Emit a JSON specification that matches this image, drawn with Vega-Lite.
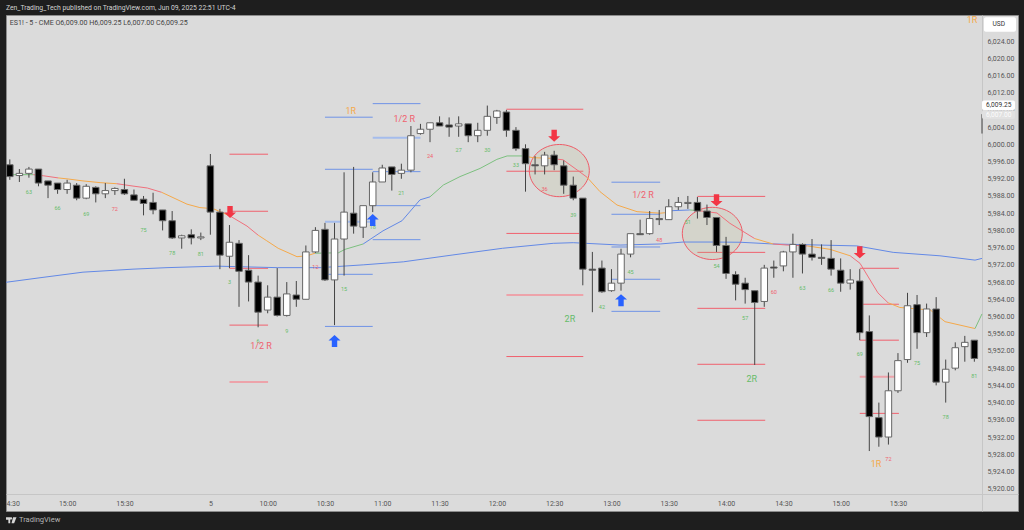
{
  "$schema": "https://vega.github.io/schema/vega-lite/v6.json",
  "width": 1012,
  "height": 496,
  "autosize": "none",
  "padding": {"left": 6, "top": 15, "right": 6, "bottom": 19},
  "background": "#1e1e1e",
  "view": {"fill": "#dbdbdb", "stroke": "#8c8c8c"},
  "config": {"font": "Roboto"},
  "title": {
    "text": "Zen_Trading_Tech published on TradingView.com, Jun 09, 2025 22:51 UTC-4",
    "anchor": "start",
    "frame": "group",
    "offset": 3,
    "fontSize": 6.8,
    "fontWeight": "normal",
    "color": "#d4d4d4"
  },
  "resolve": {"scale": {"color": "independent"}},
  "datasets": {
    "candles": [
      {"bar":0,"open":5995.25,"high":5996.5,"low":5991.75,"close":5992.5},
      {"bar":1,"open":5992.75,"high":5994.25,"low":5991.25,"close":5993.25},
      {"bar":2,"open":5993.25,"high":5994.75,"low":5992.25,"close":5994.25},
      {"bar":3,"open":5994.25,"high":5994.25,"low":5990.25,"close":5991},
      {"bar":4,"open":5991.5,"high":5991.5,"low":5987.5,"close":5990.5},
      {"bar":5,"open":5991,"high":5991,"low":5988.5,"close":5989.5},
      {"bar":6,"open":5989.5,"high":5991.75,"low":5988.5,"close":5991},
      {"bar":7,"open":5990.5,"high":5991,"low":5987,"close":5987.5},
      {"bar":8,"open":5987.5,"high":5990.75,"low":5987.25,"close":5990.25},
      {"bar":9,"open":5990,"high":5990.25,"low":5986.5,"close":5988.5},
      {"bar":10,"open":5988.5,"high":5991,"low":5987.5,"close":5989.25},
      {"bar":11,"open":5989.25,"high":5990,"low":5988.25,"close":5989.75},
      {"bar":12,"open":5989.5,"high":5992,"low":5988.25,"close":5988.5},
      {"bar":13,"open":5988.25,"high":5989.5,"low":5987,"close":5987},
      {"bar":14,"open":5987.25,"high":5988,"low":5983.5,"close":5986.25},
      {"bar":15,"open":5986.5,"high":5988.75,"low":5983.75,"close":5984.75},
      {"bar":16,"open":5984.75,"high":5984.75,"low":5980,"close":5982.25},
      {"bar":17,"open":5982.25,"high":5984.5,"low":5978,"close":5978.25},
      {"bar":18,"open":5978.25,"high":5979,"low":5975.75,"close":5978.75},
      {"bar":19,"open":5979,"high":5980.25,"low":5976.75,"close":5978.25},
      {"bar":20,"open":5978.25,"high":5979.5,"low":5977.75,"close":5978.5},
      {"bar":21,"open":5995,"high":5997.75,"low":5979,"close":5984.25},
      {"bar":22,"open":5984.25,"high":5985,"low":5971,"close":5974.25},
      {"bar":23,"open":5974,"high":5981.25,"low":5971.25,"close":5977.25},
      {"bar":24,"open":5977,"high":5977.75,"low":5962.25,"close":5970.5},
      {"bar":25,"open":5970.75,"high":5974.25,"low":5963.5,"close":5968},
      {"bar":26,"open":5968,"high":5969.5,"low":5957.5,"close":5961},
      {"bar":27,"open":5961.5,"high":5967.25,"low":5960.75,"close":5964.5},
      {"bar":28,"open":5964.5,"high":5971.25,"low":5960,"close":5960.25},
      {"bar":29,"open":5960.25,"high":5968,"low":5960,"close":5965.25},
      {"bar":30,"open":5965,"high":5968.25,"low":5962.25,"close":5964},
      {"bar":31,"open":5964,"high":5976.5,"low":5964,"close":5975},
      {"bar":32,"open":5975,"high":5980.75,"low":5974.75,"close":5980},
      {"bar":33,"open":5980.25,"high":5981.75,"low":5968.25,"close":5968.5},
      {"bar":34,"open":5968.5,"high":5981.75,"low":5958,"close":5978},
      {"bar":35,"open":5978,"high":5993.5,"low":5969.5,"close":5984.25},
      {"bar":36,"open":5984,"high":5994.75,"low":5979.25,"close":5981},
      {"bar":37,"open":5980.75,"high":5985.75,"low":5978.25,"close":5985.75},
      {"bar":38,"open":5985.75,"high":5993.5,"low":5984.25,"close":5991.25},
      {"bar":39,"open":5991.25,"high":5995.25,"low":5991.25,"close":5994.5},
      {"bar":40,"open":5994.75,"high":5994.75,"low":5989.25,"close":5993},
      {"bar":41,"open":5993.25,"high":5995.5,"low":5992,"close":5994},
      {"bar":42,"open":5994,"high":6004.25,"low":5993.5,"close":6002},
      {"bar":43,"open":6002.5,"high":6004.75,"low":6002.25,"close":6003.5},
      {"bar":44,"open":6003.5,"high":6005,"low":6000.5,"close":6005},
      {"bar":45,"open":6005,"high":6006.5,"low":6004.25,"close":6004.25},
      {"bar":46,"open":6004.5,"high":6006.25,"low":6001.75,"close":6004},
      {"bar":47,"open":6004.25,"high":6006.5,"low":6001.75,"close":6004.75},
      {"bar":48,"open":6004.75,"high":6004.75,"low":6000.5,"close":6002},
      {"bar":49,"open":6002,"high":6005,"low":6000.5,"close":6003.25},
      {"bar":50,"open":6003.25,"high":6009,"low":6002,"close":6006.5},
      {"bar":51,"open":6006.25,"high":6008,"low":6004.75,"close":6007.75},
      {"bar":52,"open":6007.5,"high":6008,"low":6001.75,"close":6003.25},
      {"bar":53,"open":6003.25,"high":6004,"low":5998.5,"close":5999},
      {"bar":54,"open":5999,"high":6000,"low":5989,"close":5995.5},
      {"bar":55,"open":5995.25,"high":5997.25,"low":5993,"close":5995},
      {"bar":56,"open":5995,"high":5998.25,"low":5993,"close":5997.5},
      {"bar":57,"open":5997.5,"high":5998.5,"low":5994,"close":5995.25},
      {"bar":58,"open":5995,"high":5996.25,"low":5988.5,"close":5990.5},
      {"bar":59,"open":5990.5,"high":5992.5,"low":5987,"close":5987.5},
      {"bar":60,"open":5987.5,"high":5987.5,"low":5967.25,"close":5971},
      {"bar":61,"open":5971,"high":5975,"low":5961,"close":5970.75},
      {"bar":62,"open":5971.25,"high":5973,"low":5965.5,"close":5965.75},
      {"bar":63,"open":5966,"high":5971,"low":5965.75,"close":5967.75},
      {"bar":64,"open":5967.75,"high":5975.75,"low":5966,"close":5974.5},
      {"bar":65,"open":5974.5,"high":5979.25,"low":5973.75,"close":5979.25},
      {"bar":66,"open":5979.25,"high":5982.5,"low":5979,"close":5979},
      {"bar":67,"open":5979.25,"high":5984.5,"low":5979,"close":5982.75},
      {"bar":68,"open":5982.75,"high":5984.75,"low":5981.25,"close":5982.5},
      {"bar":69,"open":5982.5,"high":5987.25,"low":5982.5,"close":5985.5},
      {"bar":70,"open":5985.5,"high":5987.75,"low":5984.75,"close":5986.5},
      {"bar":71,"open":5986.25,"high":5988,"low":5985,"close":5986.5},
      {"bar":72,"open":5986.5,"high":5987.75,"low":5982.75,"close":5984.5},
      {"bar":73,"open":5984.5,"high":5986,"low":5981.25,"close":5983},
      {"bar":74,"open":5983,"high":5983,"low":5975,"close":5976.5},
      {"bar":75,"open":5976.5,"high":5978.5,"low":5968.75,"close":5970},
      {"bar":76,"open":5969.75,"high":5970.5,"low":5963.75,"close":5967.5},
      {"bar":77,"open":5967.75,"high":5969,"low":5963,"close":5966.25},
      {"bar":78,"open":5966,"high":5966,"low":5948.75,"close":5963.25},
      {"bar":79,"open":5963.5,"high":5972,"low":5962.25,"close":5971.25},
      {"bar":80,"open":5971.5,"high":5973,"low":5969,"close":5971.25},
      {"bar":81,"open":5971.75,"high":5975.25,"low":5970.5,"close":5975},
      {"bar":82,"open":5975,"high":5979.25,"low":5969,"close":5976.75},
      {"bar":83,"open":5976.75,"high":5977,"low":5970,"close":5974.5},
      {"bar":84,"open":5974.5,"high":5978,"low":5973,"close":5973.75},
      {"bar":85,"open":5973.75,"high":5976.75,"low":5972,"close":5973.5},
      {"bar":86,"open":5973.5,"high":5977.75,"low":5969.5,"close":5971},
      {"bar":87,"open":5970.75,"high":5973.5,"low":5965.75,"close":5967.75},
      {"bar":88,"open":5967.75,"high":5971,"low":5966.25,"close":5968.5},
      {"bar":89,"open":5968.25,"high":5971,"low":5954.5,"close":5956.25},
      {"bar":90,"open":5956.5,"high":5960.25,"low":5928.75,"close":5936.75},
      {"bar":91,"open":5936.5,"high":5940,"low":5929.75,"close":5932},
      {"bar":92,"open":5932,"high":5947,"low":5930.25,"close":5942.75},
      {"bar":93,"open":5942.75,"high":5951.5,"low":5942.25,"close":5949.75},
      {"bar":94,"open":5950,"high":5965.5,"low":5949.25,"close":5962.5},
      {"bar":95,"open":5962.75,"high":5965,"low":5952.5,"close":5956.25},
      {"bar":96,"open":5956.25,"high":5963,"low":5955.25,"close":5961.75},
      {"bar":97,"open":5961.75,"high":5964.5,"low":5944,"close":5944.75},
      {"bar":98,"open":5944.75,"high":5950,"low":5940,"close":5947.75},
      {"bar":99,"open":5948,"high":5954,"low":5947.5,"close":5952.75},
      {"bar":100,"open":5953,"high":5955.5,"low":5949.5,"close":5954},
      {"bar":101,"open":5954.5,"high":5954.5,"low":5949.5,"close":5950.25},
      {"bar":101.8,"high":6007,"low":6002.5}
    ],
    "fast": [
      {"seg":1,"trend":"up","bar":-0.4,"price":5992.9},{"seg":1,"trend":"up","bar":0.34,"price":5992.95},
      {"seg":2,"trend":"rising","bar":0.34,"price":5992.95},{"seg":2,"trend":"rising","bar":2.46,"price":5992.95},
      {"seg":3,"trend":"down","bar":2.46,"price":5992.95},{"seg":3,"trend":"down","bar":3.5,"price":5992.7},{"seg":3,"trend":"down","bar":5.05,"price":5992.2},
      {"seg":4,"trend":"flat","bar":5.05,"price":5992.2},{"seg":4,"trend":"flat","bar":6.1,"price":5991.95},{"seg":4,"trend":"flat","bar":7.66,"price":5991.5},{"seg":4,"trend":"flat","bar":9.45,"price":5991.1},{"seg":4,"trend":"flat","bar":11.2,"price":5990.85},
      {"seg":5,"trend":"down","bar":11.2,"price":5990.85},{"seg":5,"trend":"down","bar":12.9,"price":5990.3},{"seg":5,"trend":"down","bar":14.4,"price":5989.85},{"seg":5,"trend":"down","bar":15.9,"price":5988.85},
      {"seg":6,"trend":"flat","bar":15.9,"price":5988.85},{"seg":6,"trend":"flat","bar":17.3,"price":5987.4},{"seg":6,"trend":"flat","bar":18.55,"price":5986.1},{"seg":6,"trend":"flat","bar":19.9,"price":5985.3},{"seg":6,"trend":"flat","bar":21.3,"price":5985.05},{"seg":6,"trend":"flat","bar":23.06,"price":5983.35},
      {"seg":7,"trend":"down","bar":23.06,"price":5983.35},{"seg":7,"trend":"down","bar":24.84,"price":5981},{"seg":7,"trend":"down","bar":26,"price":5978.9},
      {"seg":8,"trend":"flat","bar":26,"price":5978.9},{"seg":8,"trend":"flat","bar":26.9,"price":5977.6},{"seg":8,"trend":"flat","bar":28.1,"price":5975.85},{"seg":8,"trend":"flat","bar":30.07,"price":5973.9},{"seg":8,"trend":"flat","bar":31.1,"price":5974.1},{"seg":8,"trend":"flat","bar":31.96,"price":5974.7},
      {"seg":9,"trend":"rising","bar":31.96,"price":5974.7},{"seg":9,"trend":"rising","bar":34.4,"price":5974.8},{"seg":9,"trend":"rising","bar":35.1,"price":5975.6},{"seg":9,"trend":"rising","bar":37,"price":5976.85},
      {"seg":10,"trend":"up","bar":37,"price":5976.85},{"seg":10,"trend":"up","bar":39.08,"price":5979.9},{"seg":10,"trend":"up","bar":41.07,"price":5982.25},{"seg":10,"trend":"up","bar":42.95,"price":5987.1},{"seg":10,"trend":"up","bar":44,"price":5987.8},
      {"seg":11,"trend":"rising","bar":44,"price":5987.8},{"seg":11,"trend":"rising","bar":45.4,"price":5990.55},{"seg":11,"trend":"rising","bar":47.14,"price":5992.5},{"seg":11,"trend":"rising","bar":49.24,"price":5994.4},{"seg":11,"trend":"rising","bar":51,"price":5996.5},{"seg":11,"trend":"rising","bar":52.07,"price":5997.3},{"seg":11,"trend":"rising","bar":53.74,"price":5997.3},
      {"seg":12,"trend":"flat","bar":53.74,"price":5997.3},{"seg":12,"trend":"flat","bar":54.8,"price":5996.9},{"seg":12,"trend":"flat","bar":56.56,"price":5996.75},
      {"seg":13,"trend":"down","bar":56.56,"price":5996.75},{"seg":13,"trend":"down","bar":57.93,"price":5996.4},{"seg":13,"trend":"down","bar":59.4,"price":5994.05},{"seg":13,"trend":"down","bar":60.44,"price":5992.35},
      {"seg":14,"trend":"flat","bar":60.44,"price":5992.35},{"seg":14,"trend":"flat","bar":61.8,"price":5989},{"seg":14,"trend":"flat","bar":63.58,"price":5985.9},{"seg":14,"trend":"flat","bar":65.68,"price":5984.35},{"seg":14,"trend":"flat","bar":68.1,"price":5984},{"seg":14,"trend":"flat","bar":68.6,"price":5984.1},
      {"seg":15,"trend":"up","bar":68.6,"price":5984.1},{"seg":15,"trend":"up","bar":69.45,"price":5984.6},{"seg":15,"trend":"up","bar":71.2,"price":5984.75},
      {"seg":16,"trend":"rising","bar":71.2,"price":5984.75},{"seg":16,"trend":"rising","bar":72.06,"price":5984.6},
      {"seg":17,"trend":"down","bar":72.06,"price":5984.6},{"seg":17,"trend":"down","bar":74.05,"price":5984.05},{"seg":17,"trend":"down","bar":75.4,"price":5981.65},{"seg":17,"trend":"down","bar":78,"price":5978.1},
      {"seg":18,"trend":"flat","bar":78,"price":5978.1},{"seg":18,"trend":"flat","bar":79.92,"price":5976.85},
      {"seg":19,"trend":"down","bar":79.92,"price":5976.85},{"seg":19,"trend":"down","bar":81.4,"price":5976.6},{"seg":19,"trend":"down","bar":83.5,"price":5976.4},
      {"seg":20,"trend":"flat","bar":83.5,"price":5976.4},{"seg":20,"trend":"flat","bar":85.9,"price":5975.6},{"seg":20,"trend":"flat","bar":88,"price":5974.1},
      {"seg":21,"trend":"down","bar":88,"price":5974.1},{"seg":21,"trend":"down","bar":89.03,"price":5972.35},{"seg":21,"trend":"down","bar":90.9,"price":5965.5},{"seg":21,"trend":"down","bar":91.96,"price":5963.2},
      {"seg":22,"trend":"flat","bar":91.96,"price":5963.2},{"seg":22,"trend":"flat","bar":93.2,"price":5962.1},{"seg":22,"trend":"flat","bar":96.4,"price":5961.5},{"seg":22,"trend":"flat","bar":97.93,"price":5958.8},{"seg":22,"trend":"flat","bar":101.07,"price":5957.2},
      {"seg":23,"trend":"rising","bar":101.07,"price":5957.2},{"seg":23,"trend":"rising","bar":101.8,"price":5960.6}
    ],
    "slow": [
      {"bar":-0.4,"price":5967.95},{"bar":3.16,"price":5969},{"bar":7.66,"price":5970.3},{"bar":12.9,"price":5971},{"bar":16.46,"price":5971.35},{"bar":21.7,"price":5971.7},{"bar":28,"price":5971.35},{"bar":32.5,"price":5971.35},{"bar":37,"price":5972},{"bar":41.2,"price":5972.7},{"bar":46.4,"price":5974.3},{"bar":51.6,"price":5975.85},{"bar":56.9,"price":5977},{"bar":59,"price":5977.15},{"bar":63.9,"price":5976.6},{"bar":68.1,"price":5976.85},{"bar":70.5,"price":5977.3},{"bar":73.6,"price":5977.3},{"bar":76.5,"price":5977.25},{"bar":79.9,"price":5976.85},{"bar":88.7,"price":5976.4},{"bar":92.5,"price":5974.9},{"bar":97.4,"price":5974.1},{"bar":101.07,"price":5973.1},{"bar":101.8,"price":5973.5}
    ],
    "levels": [
      {"bar":23,"to":27.04,"price":5997.7,"kind":"red"},{"bar":23,"to":27.04,"price":5984.45,"kind":"red"},{"bar":23,"to":27.04,"price":5971.2,"kind":"red"},{"bar":23,"to":27.04,"price":5958,"kind":"red"},{"bar":23,"to":27.04,"price":5944.8,"kind":"red faint"},
      {"bar":33,"to":38,"price":6006.3,"kind":"blue"},{"bar":33,"to":38,"price":5994.2,"kind":"blue"},{"bar":33,"to":38,"price":5982,"kind":"blue faint"},{"bar":33,"to":38,"price":5969.8,"kind":"blue"},{"bar":33,"to":38,"price":5957.7,"kind":"blue"},
      {"bar":38,"to":43,"price":6009.45,"kind":"blue"},{"bar":38,"to":43,"price":6001.5,"kind":"blue faint"},{"bar":38,"to":43,"price":5993.65,"kind":"blue"},{"bar":38,"to":43,"price":5985.75,"kind":"blue"},{"bar":38,"to":43,"price":5977.85,"kind":"blue"},
      {"bar":52,"to":60.05,"price":6008.15,"kind":"red"},{"bar":52,"to":60.05,"price":5993.75,"kind":"red"},{"bar":52,"to":60.05,"price":5979.3,"kind":"red"},{"bar":52,"to":60.05,"price":5965,"kind":"red faint"},{"bar":52,"to":60.05,"price":5950.7,"kind":"red"},
      {"bar":63,"to":68.1,"price":5991.2,"kind":"blue"},{"bar":63,"to":68.1,"price":5983.75,"kind":"blue"},{"bar":63,"to":68.1,"price":5976.15,"kind":"blue"},{"bar":63,"to":68.1,"price":5968.65,"kind":"blue"},{"bar":63,"to":68.1,"price":5961.2,"kind":"blue"},
      {"bar":72,"to":79.1,"price":5987.9,"kind":"red"},{"bar":72,"to":79.1,"price":5974.9,"kind":"red"},{"bar":72,"to":79.1,"price":5961.9,"kind":"red"},{"bar":72,"to":79.1,"price":5948.9,"kind":"red"},{"bar":72,"to":79.1,"price":5935.9,"kind":"red"},
      {"bar":89,"to":93.1,"price":5971.2,"kind":"red"},{"bar":89,"to":93.1,"price":5962.85,"kind":"red"},{"bar":89,"to":93.1,"price":5954.5,"kind":"red"},{"bar":89,"to":93.1,"price":5946,"kind":"red faint"},{"bar":89,"to":93.1,"price":5937.5,"kind":"red"}
    ],
    "counts": [
      {"bar":2,"price":5988.9,"n":"63","tone":"green"},{"bar":5,"price":5985.2,"n":"66","tone":"green"},{"bar":8,"price":5983.9,"n":"69","tone":"green"},{"bar":11,"price":5984.9,"n":"72","tone":"red"},{"bar":14,"price":5980.1,"n":"75","tone":"green"},{"bar":17,"price":5974.7,"n":"78","tone":"green"},{"bar":20,"price":5974.5,"n":"81","tone":"green"},
      {"bar":23,"price":5968,"n":"3","tone":"green"},{"bar":26,"price":5954.3,"n":"6","tone":"green"},{"bar":29,"price":5956.7,"n":"9","tone":"green"},{"bar":32,"price":5971.6,"n":"12","tone":"red"},{"bar":35,"price":5966.4,"n":"15","tone":"green"},{"bar":38,"price":5980.9,"n":"18","tone":"green"},{"bar":41,"price":5988.7,"n":"21","tone":"green"},{"bar":44,"price":5997.4,"n":"24","tone":"red"},{"bar":47,"price":5998.7,"n":"27","tone":"green"},{"bar":50,"price":5998.7,"n":"30","tone":"green"},{"bar":53,"price":5995.1,"n":"33","tone":"green"},{"bar":56,"price":5989.7,"n":"36","tone":"red"},{"bar":59,"price":5983.6,"n":"39","tone":"green"},{"bar":62,"price":5962.1,"n":"42","tone":"green"},{"bar":65,"price":5970.4,"n":"45","tone":"green"},{"bar":68,"price":5977.7,"n":"48","tone":"red"},{"bar":71,"price":5982,"n":"51","tone":"green"},{"bar":74,"price":5971.7,"n":"54","tone":"green"},{"bar":77,"price":5959.7,"n":"57","tone":"green"},{"bar":80,"price":5965.6,"n":"60","tone":"red"},{"bar":83,"price":5966.7,"n":"63","tone":"green"},{"bar":86,"price":5966.2,"n":"66","tone":"green"},{"bar":89,"price":5951.4,"n":"69","tone":"green"},{"bar":92,"price":5926.9,"n":"72","tone":"red"},{"bar":95,"price":5949.2,"n":"75","tone":"green"},{"bar":98,"price":5936.7,"n":"78","tone":"green"},{"bar":101,"price":5946.2,"n":"81","tone":"green"}
    ],
    "targets": [
      {"bar":35.7,"price":6007.75,"n":"1R","tone":"orange"},{"bar":41.3,"price":6005.9,"n":"1/2 R","tone":"red"},{"bar":26.3,"price":5953.15,"n":"1/2 R","tone":"red"},{"bar":58.65,"price":5959.4,"n":"2R","tone":"green"},{"bar":66.3,"price":5988.2,"n":"1/2 R","tone":"red"},{"bar":77.7,"price":5945.5,"n":"2R","tone":"green"},{"bar":90.7,"price":5925.7,"n":"1R","tone":"orange"},{"bar":100.75,"price":6028.9,"n":"1R","tone":"orange"}
    ],
    "grid": [
      {"price":5920},{"price":5924},{"price":5928},{"price":5932},{"price":5936},{"price":5940},{"price":5944},{"price":5948},{"price":5952},{"price":5956},{"price":5960},{"price":5964},{"price":5968},{"price":5972},{"price":5976},{"price":5980},{"price":5984},{"price":5988},{"price":5992},{"price":5996},{"price":6000},{"price":6004},{"price":6008},{"price":6012},{"price":6016},{"price":6020},{"price":6024}
    ]
  },
  "data": {"name": "grid"},
  "encoding": {
    "x": {
      "field": "bar",
      "type": "quantitative",
      "title": null,
      "scale": {"domain": [-0.4, 105.57], "nice": false, "zero": false, "padding": 0},
      "axis": {
        "offset": -17,
        "grid": false,
        "ticks": false,
        "domainColor": "#c6c6c6",
        "labelColor": "#555555",
        "labelFontSize": 7,
        "labelPadding": 5,
        "labelFlush": false,
        "labelOverlap": false,
        "values": [0.3, 6, 12, 21, 27, 33, 39, 45, 51, 57, 63, 69, 75, 81, 87, 93],
        "labelExpr": "{'0.3':'4:30','6':'15:00','12':'15:30','21':'5','27':'10:00','33':'10:30','39':'11:00','45':'11:30','51':'12:00','57':'12:30','63':'13:00','69':'13:30','75':'14:00','81':'14:30','87':'15:00','93':'15:30'}[datum.value]"
      }
    },
    "y": {
      "field": "price",
      "type": "quantitative",
      "title": null,
      "scale": {"domain": [5914.82, 6030.04], "nice": false, "zero": false},
      "axis": {
        "orient": "right",
        "offset": -36,
        "grid": false,
        "ticks": false,
        "domainColor": "#c6c6c6",
        "labelColor": "#555555",
        "labelFontSize": 7,
        "labelPadding": 5,
        "labelOverlap": false,
        "format": ",.2f",
        "values": [5920, 5924, 5928, 5932, 5936, 5940, 5944, 5948, 5952, 5956, 5960, 5964, 5968, 5972, 5976, 5980, 5984, 5988, 5992, 5996, 6000, 6004, 6008, 6012, 6016, 6020, 6024]
      }
    }
  },
  "layer": [
    {
      "mark": {"type": "rule", "color": "#d0d0d0", "strokeWidth": 1},
      "encoding": {
        "x": {"datum": -0.4, "type": "quantitative"},
        "x2": {"datum": 101.8}
      }
    },
    {
      "data": {"values": [{"price": 6009.25}]},
      "mark": {"type": "rule", "color": "#ffffff", "strokeWidth": 1, "strokeDash": [1, 2]},
      "encoding": {
        "x": {"datum": -0.4, "type": "quantitative"},
        "x2": {"datum": 101.8}
      }
    },
    {
      "data": {"name": "levels"},
      "mark": {"type": "rule"},
      "encoding": {
        "x2": {"field": "to"},
        "color": {
          "field": "kind",
          "type": "nominal",
          "legend": null,
          "scale": {"domain": ["red", "red faint", "blue", "blue faint"], "range": ["#f0616e", "#eda3aa", "#6f93e6", "#a5bcec"]}
        },
        "strokeWidth": {
          "field": "kind",
          "type": "nominal",
          "legend": null,
          "scale": {"type": "ordinal", "domain": ["red", "red faint", "blue", "blue faint"], "range": [1, 2, 1, 2]}
        }
      }
    },
    {
      "data": {"values": [{"bar": 57.54, "price": 5993.9}, {"bar": 73.56, "price": 5979.3}]},
      "mark": {
        "type": "point",
        "shape": "M-1,0A1,0.87 0 1,1 1,0A1,0.87 0 1,1 -1,0Z",
        "size": 3600,
        "filled": false,
        "fill": "#b3b37e",
        "fillOpacity": 0.17,
        "stroke": "#ee5c68",
        "strokeWidth": 1,
        "opacity": 1
      }
    },
    {
      "data": {"name": "slow"},
      "mark": {"type": "line", "color": "#6389e6", "strokeWidth": 1}
    },
    {
      "data": {"name": "fast"},
      "mark": {"type": "line", "strokeWidth": 1},
      "encoding": {
        "detail": {"field": "seg"},
        "color": {
          "field": "trend",
          "type": "nominal",
          "legend": null,
          "scale": {"domain": ["up", "rising", "flat", "down"], "range": ["#6389e6", "#7cc07f", "#f5a94a", "#f0707c"]}
        }
      }
    },
    {
      "data": {"name": "candles"},
      "mark": {"type": "rule", "color": "#444444", "strokeWidth": 1},
      "encoding": {
        "y": {"field": "high", "type": "quantitative"},
        "y2": {"field": "low"}
      }
    },
    {
      "data": {"name": "candles"},
      "mark": {"type": "bar", "orient": "vertical", "width": 6.5, "stroke": "#666666", "strokeWidth": 1},
      "encoding": {
        "y": {"field": "open", "type": "quantitative"},
        "y2": {"field": "close"},
        "fill": {
          "condition": {"test": "datum.close >= datum.open", "value": "#ffffff"},
          "value": "#000000"
        }
      }
    },
    {
      "data": {"name": "counts"},
      "mark": {"type": "text", "fontSize": 5.5},
      "encoding": {
        "text": {"field": "n"},
        "color": {
          "field": "tone",
          "type": "nominal",
          "legend": null,
          "scale": {"domain": ["green", "red", "orange"], "range": ["#66bb6a", "#f0616e", "#f5a94a"]}
        }
      }
    },
    {
      "data": {"name": "targets"},
      "mark": {"type": "text", "fontSize": 9},
      "encoding": {
        "text": {"field": "n"},
        "color": {
          "field": "tone",
          "type": "nominal",
          "legend": null,
          "scale": {"domain": ["green", "red", "orange"], "range": ["#66bb6a", "#f0616e", "#f5a94a"]}
        }
      }
    },
    {
      "data": {"values": [{"bar": 23.06, "price": 5984.3}, {"bar": 57, "price": 6002}, {"bar": 74, "price": 5987}, {"bar": 89, "price": 5974.9}]},
      "mark": {
        "type": "point",
        "shape": "M0,1L1,0.1L0.45,0.1L0.45,-1L-0.45,-1L-0.45,0.1L-1,0.1Z",
        "size": 144,
        "filled": true,
        "color": "#f23645",
        "opacity": 1
      }
    },
    {
      "data": {"values": [{"bar": 34, "price": 5954.3}, {"bar": 38, "price": 5982.4}, {"bar": 64, "price": 5963.8}]},
      "mark": {
        "type": "point",
        "shape": "M0,-1L1,-0.1L0.45,-0.1L0.45,1L-0.45,1L-0.45,-0.1L-1,-0.1Z",
        "size": 144,
        "filled": true,
        "color": "#2962ff",
        "opacity": 1
      }
    },
    {
      "data": {"values": [
        {"bar": 102, "to": 105.36, "price": 6029.5, "price2": 6026.15, "tag": "usd"},
        {"bar": 101.8, "to": 105.26, "price": 6005.9, "price2": 6007.9, "tag": "last"},
        {"bar": 101.8, "to": 105.26, "price": 6008, "price2": 6010.15, "tag": "close"}
      ]},
      "mark": {"type": "rect", "cornerRadius": 2},
      "encoding": {
        "x2": {"field": "to"},
        "y2": {"field": "price2"},
        "fill": {
          "field": "tag",
          "type": "nominal",
          "legend": null,
          "scale": {"domain": ["usd", "last", "close"], "range": ["#ffffff", "#e1e1e1", "#ffffff"]}
        }
      }
    },
    {
      "data": {"values": [
        {"bar": 103.55, "price": 6027.85, "n": "USD", "tag": "dark"},
        {"bar": 103.55, "price": 6009.15, "n": "6,009.25", "tag": "dark"},
        {"bar": 103.55, "price": 6006.8, "n": "6,007.00", "tag": "light"}
      ]},
      "mark": {"type": "text", "fontSize": 6.6},
      "encoding": {
        "text": {"field": "n"},
        "color": {
          "field": "tag",
          "type": "nominal",
          "legend": null,
          "scale": {"domain": ["dark", "light"], "range": ["#333333", "#fdfdfd"]}
        }
      }
    },
    {
      "data": {"values": [{"bar": 0, "price": 6028.2, "n": "ES1! - 5 - CME  O6,009.00  H6,009.25  L6,007.00  C6,009.25"}]},
      "mark": {"type": "text", "align": "left", "fontSize": 7.1, "color": "#444444"},
      "encoding": {"text": {"field": "n"}}
    },
    {
      "data": {"values": [{"bar": 0.96, "price": 5912.7, "n": "TradingView"}]},
      "mark": {"type": "text", "align": "left", "fontSize": 7.5, "color": "#b5b5b5"},
      "encoding": {"text": {"field": "n"}}
    },
    {
      "data": {"values": [{"bar": 0.15, "price": 5912.7}]},
      "mark": {
        "type": "point",
        "shape": "M-1,-0.55H-0.2V0.6H-0.55V-0.05H-1ZM-0.05,-0.55A0.22,0.22 0 1,1 -0.05,-0.1A0.22,0.22 0 1,1 -0.05,-0.55ZM0.35,-0.55H1L0.55,0.6H0.05Z",
        "size": 110,
        "filled": true,
        "color": "#d6d6d6",
        "opacity": 1
      }
    }
  ]
}
